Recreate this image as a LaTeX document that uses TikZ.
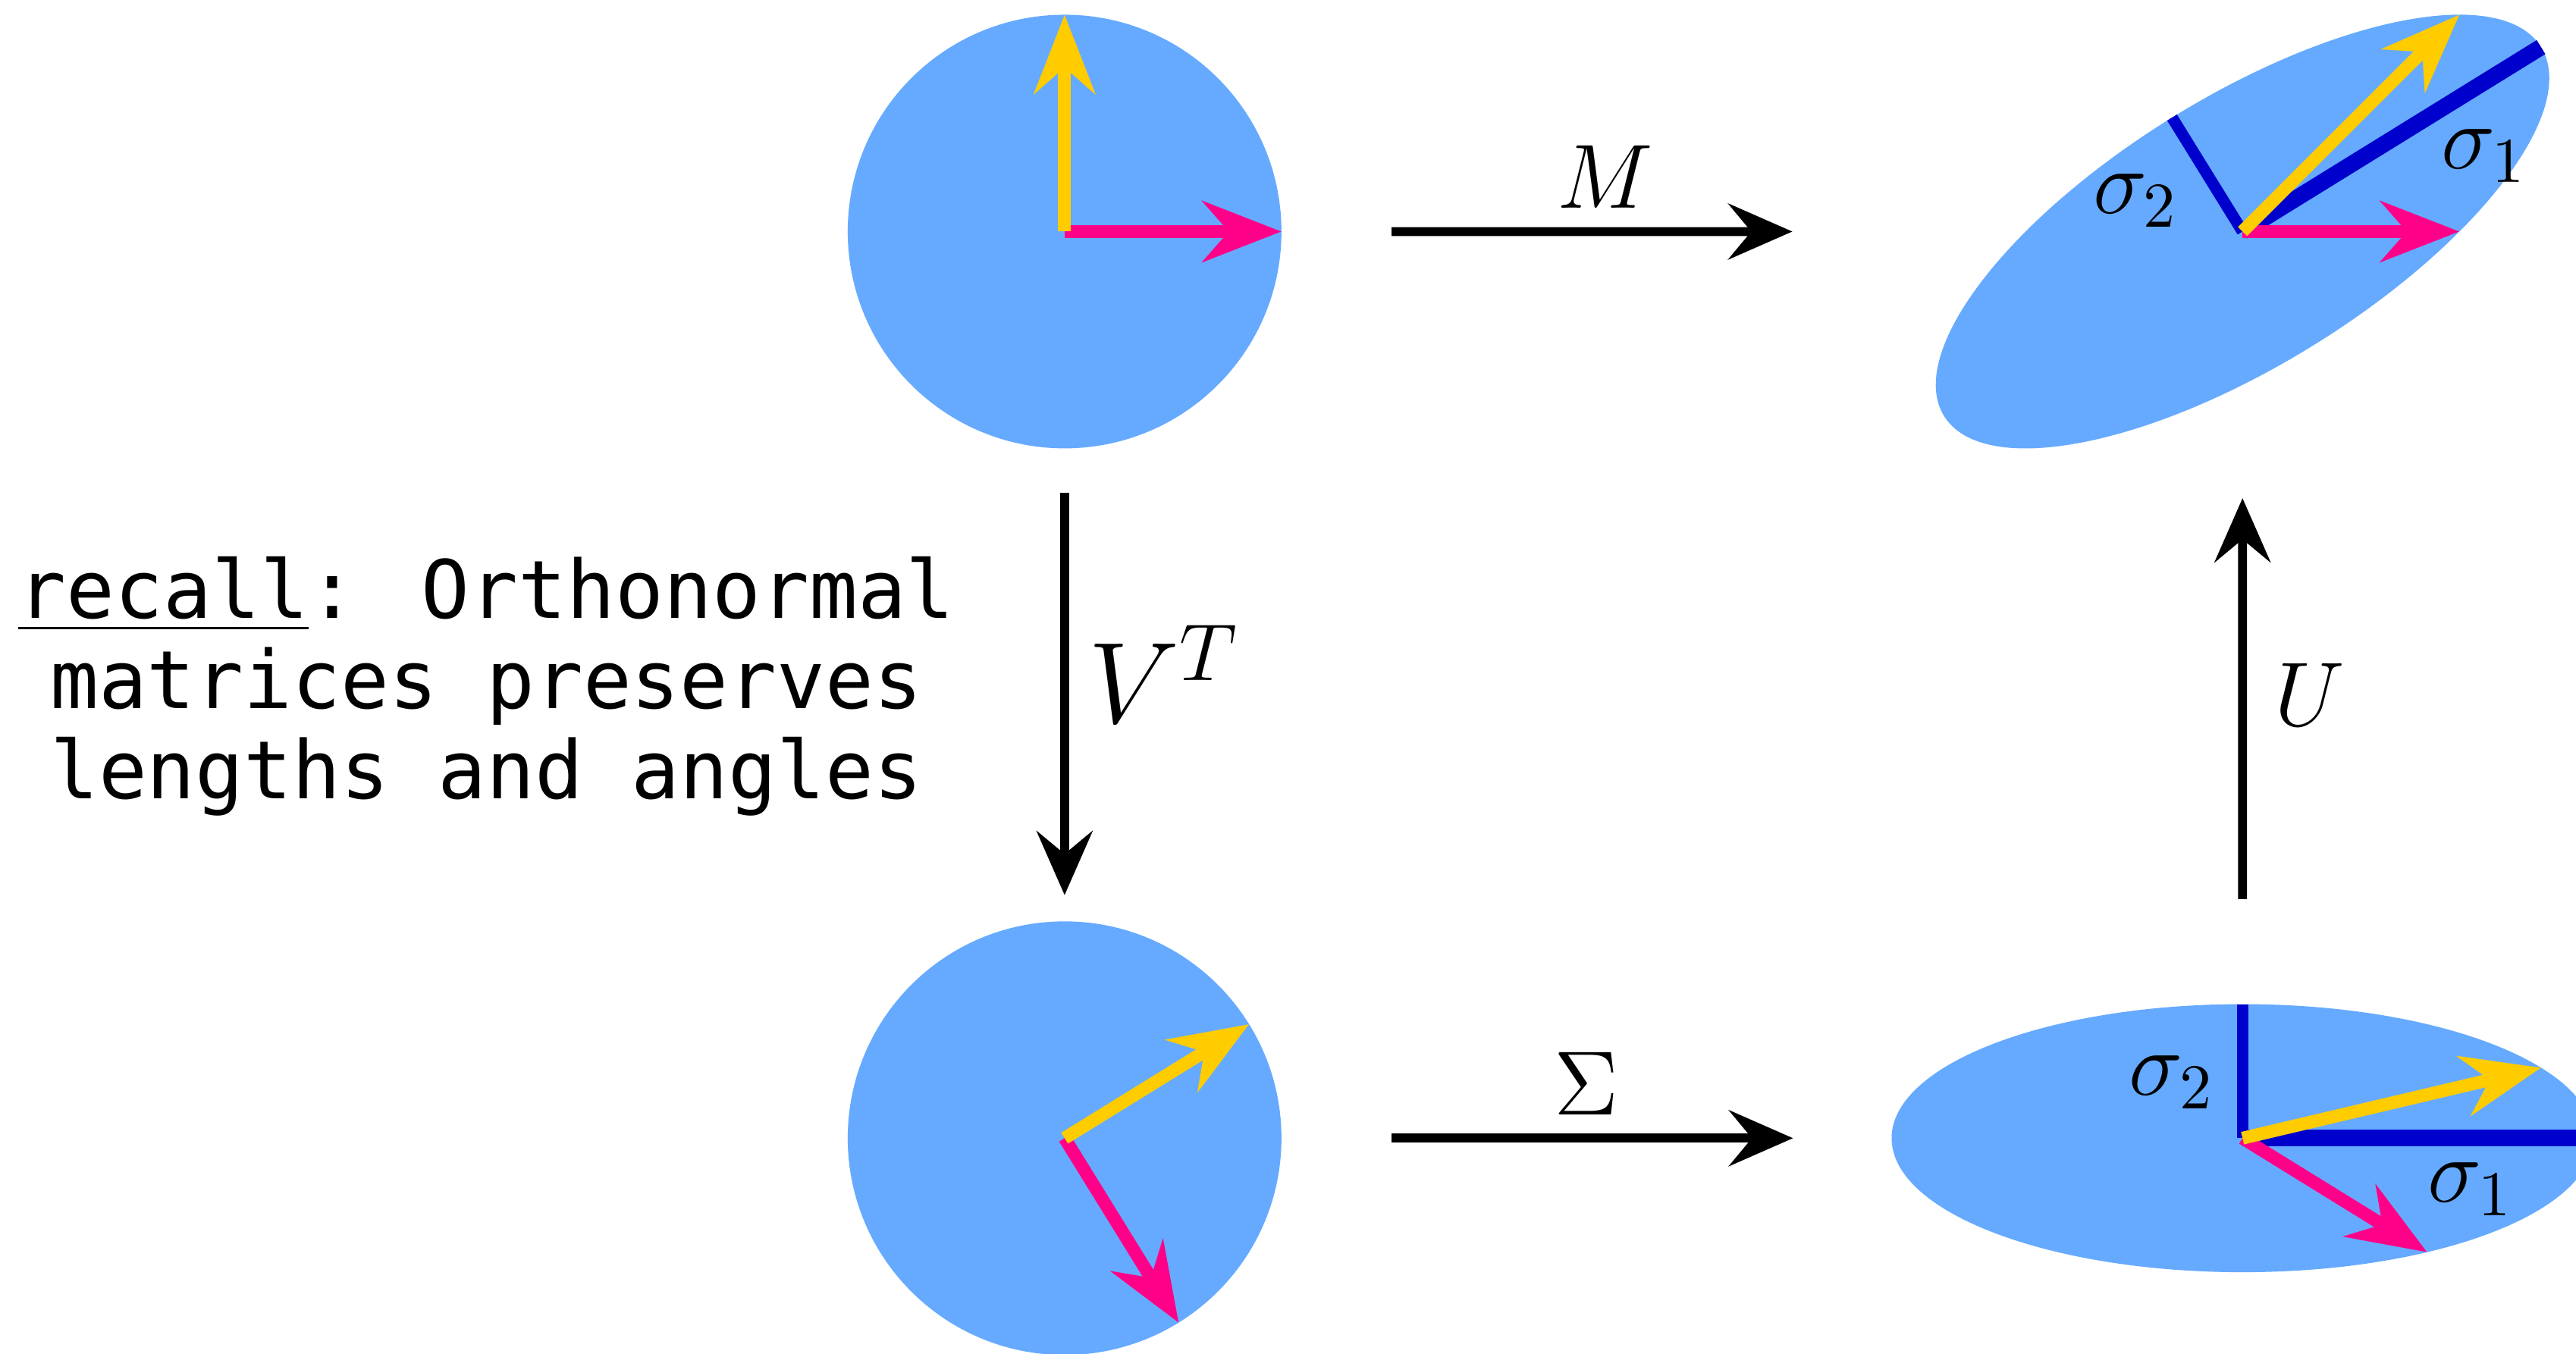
\documentclass[tikz,border=0pt]{standalone}
\usepackage{fix-cm}
\usepackage{fontspec}
\newfontfamily\recallfont{DejaVu Sans Mono}
\usetikzlibrary{shapes.geometric, arrows.meta}
\definecolor{discblue}{HTML}{66AAFF}
\definecolor{vecpink}{HTML}{FF0088}
\definecolor{vecyellow}{HTML}{FFCC00}
\definecolor{semiblue}{HTML}{0000CC}
\begin{document}
\begin{tikzpicture}[
    disc/.style={circle, fill=discblue, minimum size=2.64cm,
                 inner sep=0pt, outer sep=0pt},
    oval/.style={ellipse, fill=discblue, minimum width=4.272cm,
                 minimum height=1.632cm, inner sep=0pt, outer sep=0pt},
    vec/.style={line width=0.078cm,
                -{Stealth[length=4.8mm, width=3.7mm, inset=1.6mm]}},
    pinkvec/.style={vec, draw=vecpink},
    yellowvec/.style={vec, draw=vecyellow},
    semiaxis/.style={draw=semiblue, line width=#1},
    maparrow/.style={-{Stealth[length=3.9mm, width=3.4mm, inset=1.4mm]},
                     line width=0.054cm},
    lbl/.style={font=\fontsize{15.8pt}{19pt}\selectfont}
  ]
  \useasboundingbox (0,0) rectangle (15.68,8.24);
  \node[disc] (orig)    at (6.48,6.83)  {};
  \node[disc] (rot)     at (6.48,1.31)  {};
  \node[oval] (scaled)  at (13.65,1.31) {};
  \node[oval, rotate=31.72] (sheared) at (13.65,6.83) {};

  \draw[pinkvec]   (orig.center) -- +(1.32,0);
  \draw[yellowvec] (orig.center) -- +(0,1.32);

  \draw[pinkvec]   (rot.center) -- +(-58.28:1.32);
  \draw[yellowvec] (rot.center) -- +(31.72:1.32);

  \draw[semiaxis=0.10cm] (scaled.center) -- +(2.136,0);
  \draw[semiaxis=0.07cm] (scaled.center) -- +(0,0.816);
  \draw[pinkvec]   (scaled.center) -- +(1.123,-0.694);
  \draw[yellowvec] (scaled.center) -- +(1.817,0.429);
  \node[lbl] (s1b) at (15.04,1.00) {$\sigma_1$};
  \node[lbl] (s2b) at (13.22,1.65) {$\sigma_2$};

  \draw[semiaxis=0.10cm] (sheared.center) -- +(31.72:2.136);
  \draw[semiaxis=0.07cm] (sheared.center) -- +(121.72:0.816);
  \draw[pinkvec]   (sheared.center) -- +(1.32,0);
  \draw[yellowvec] (sheared.center) -- +(1.32,1.32);
  \node[lbl] (s1t) at (15.12,7.29) {$\sigma_1$};
  \node[lbl] (s2t) at (13.00,7.02) {$\sigma_2$};

  \draw[maparrow, shorten <=0.67cm, shorten >=1.42cm] (orig) --
    node[lbl, above, pos=0.435] {$M$} (sheared);
  \draw[maparrow, shorten <=0.67cm, shorten >=0.60cm] (rot) --
    node[lbl, above] {$\Sigma$} (scaled);
  \draw[maparrow, shorten <=0.27cm, shorten >=0.16cm] (orig) --
    node[right, pos=0.477, font=\fontsize{20pt}{24pt}\selectfont] {$V^T$} (rot);
  \draw[maparrow, shorten <=0.64cm, shorten >=0.69cm] (scaled) --
    node[lbl, right, xshift=0.05cm] {$U$} (sheared);

  \node[font=\recallfont\fontsize{13.94pt}{15.6pt}\selectfont, align=center]
    (recall) at (2.96,4.06)
    {\underline{recall}: Orthonormal\\matrices preserves\\lengths and angles};
\end{tikzpicture}
\end{document}
